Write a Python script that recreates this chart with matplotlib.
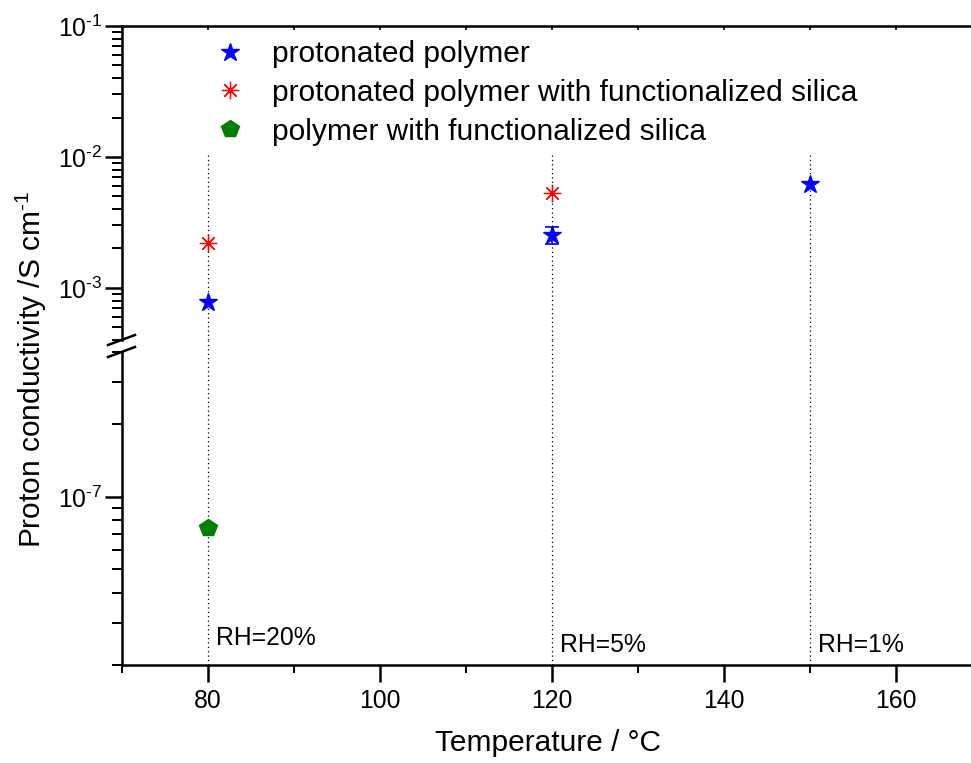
import numpy as np
import matplotlib
matplotlib.use("Agg")
import matplotlib.pyplot as plt
from matplotlib.ticker import MultipleLocator, LogLocator, FuncFormatter, NullFormatter
from matplotlib.lines import Line2D

plt.rcParams['font.family'] = ['Liberation Sans', 'DejaVu Sans']
plt.rcParams['mathtext.fontset'] = 'custom'
plt.rcParams['mathtext.rm'] = 'Liberation Sans'
plt.rcParams['mathtext.it'] = 'Liberation Sans:italic'
plt.rcParams['mathtext.bf'] = 'Liberation Sans:bold'

# ---------------- data ----------------
temp_protonated = [80, 120, 150]
cond_protonated = [7.8e-4, 2.55e-3, 6.2e-3]
err_low_protonated = [0.0, 0.40e-3, 0.0]
err_high_protonated = [0.0, 0.35e-3, 0.0]

temp_prot_silica = [80, 120]
cond_prot_silica = [2.2e-3, 5.3e-3]

temp_silica = [80]
cond_silica = [7.4e-8]

rh_temps = [80, 120, 150]
rh_labels = ["RH=20%", "RH=5%", "RH=1%"]

legend_labels = ["protonated polymer",
                 "protonated polymer with functionalized silica",
                 "polymer with functionalized silica"]

# ---------------- layout ----------------
W, H = 971, 763
fig = plt.figure(figsize=(W / 100, H / 100), dpi=100)

left_px, right_px = 122, 971
top_px, brk_top_px, brk_bot_px, bottom_px = 26, 340, 352, 665

ax_up = fig.add_axes([left_px / W, (H - brk_top_px) / H, (right_px - left_px) / W,
                      (brk_top_px - top_px) / H])
ax_lo = fig.add_axes([left_px / W, (H - bottom_px) / H, (right_px - left_px) / W,
                      (bottom_px - brk_bot_px) / H])

xlim = (70, 168.7)
up_ylim = (4e-4, 1e-1)
lo_ylim = (2e-8, 4e-7)

blue = '#0000FF'
red = '#FF0000'
green = '#008000'
tick_fs = 17.8
lw_spine = 1.8


def pow10_fmt(v, pos):
    e = int(round(np.log10(v)))
    if e < 0:
        return r'$10^{\text{-}%d}$' % (-e)
    return r'$10^{%d}$' % e


for ax, yl in ((ax_up, up_ylim), (ax_lo, lo_ylim)):
    ax.set_xlim(*xlim)
    ax.set_yscale('log')
    ax.set_ylim(*yl)
    ax.spines['right'].set_visible(False)
    for s in ax.spines.values():
        s.set_linewidth(lw_spine)
    ax.yaxis.set_major_locator(LogLocator(base=10, numticks=20))
    ax.yaxis.set_minor_locator(LogLocator(base=10, subs=np.arange(2, 10), numticks=20))
    ax.yaxis.set_major_formatter(FuncFormatter(pow10_fmt))
    ax.yaxis.set_minor_formatter(NullFormatter())
    ax.tick_params(axis='y', which='major', direction='out', length=12, width=1.8,
                   labelsize=tick_fs, pad=2, right=False)
    ax.tick_params(axis='y', which='minor', direction='out', length=7, width=1.4, right=False)
    ax.xaxis.set_major_locator(MultipleLocator(20))
    ax.xaxis.set_minor_locator(MultipleLocator(10))
    ax.patch.set_alpha(0)

# upper axes: top spine with small inward ticks, no bottom spine
ax_up.spines['bottom'].set_visible(False)
ax_up.tick_params(axis='x', which='both', bottom=False, labelbottom=False, top=True,
                  direction='in', length=3, width=1.2)
# lower axes: no top spine, bottom ticks outward
ax_lo.spines['top'].set_visible(False)
ax_lo.tick_params(axis='x', which='major', direction='out', length=12, width=1.8,
                  labelsize=tick_fs, pad=5, top=False)
ax_lo.tick_params(axis='x', which='minor', direction='out', length=6, width=1.4, top=False)

# vertical dotted guide lines (continuing across the axis break)
vline_top = 1.1e-2
for t in rh_temps:
    ax_up.plot([t, t], [up_ylim[0], vline_top], color='black', lw=0.9,
               linestyle=(0, (1, 2.5)), zorder=1)
    ax_lo.plot([t, t], [lo_ylim[0], lo_ylim[1] * 1.13], color='black', lw=0.9,
               linestyle=(0, (1, 2.5)), zorder=1, clip_on=False)

# data
star_kw = dict(marker='*', markersize=13.5, color=blue, linestyle='none', zorder=5)
ast_kw = dict(marker=(8, 2, 0), markersize=12.5, color=red, markeredgewidth=0.9,
              linestyle='none', zorder=5)
pent_kw = dict(marker='p', markersize=13, color=green, linestyle='none', zorder=5)

tp = np.array(temp_protonated)
cp = np.array(cond_protonated)
el = np.array(err_low_protonated)
eh = np.array(err_high_protonated)
m = (el > 0) | (eh > 0)
ax_up.errorbar(tp[m], cp[m], yerr=[el[m], eh[m]], fmt='none', ecolor=blue,
               elinewidth=1.2, capsize=4.7, capthick=1.2, zorder=4)
ax_up.plot(tp, cp, **star_kw)
ax_up.plot(temp_prot_silica, cond_prot_silica, **ast_kw)
ax_lo.plot(temp_silica, cond_silica, **pent_kw)

# RH annotations
rh_offsets = [(6.0, 14.5), (5.5, 9.5), (6.0, 9.5)]
for t, lab, off in zip(rh_temps, rh_labels, rh_offsets):
    ax_lo.annotate(lab, xy=(t, lo_ylim[0]), xytext=off, textcoords='offset points',
                   ha='left', va='baseline', fontsize=tick_fs)

# legend
handles = [Line2D([], [], **star_kw), Line2D([], [], **ast_kw), Line2D([], [], **pent_kw)]
ax_up.legend(handles, legend_labels, loc='upper left',
             bbox_to_anchor=((215 - left_px) / (right_px - left_px),
                             1.0 - (40 - top_px) / (brk_top_px - top_px)),
             frameon=False, fontsize=21.5, handlelength=1.0, handletextpad=0.9,
             labelspacing=0.36, borderpad=0, borderaxespad=0, numpoints=1)

# axis-break marks
bx0, bx1 = 108, 135
for yc in (brk_top_px, brk_bot_px):
    fig.add_artist(Line2D([bx0 / W, bx1 / W], [(H - (yc + 5)) / H, (H - (yc - 5)) / H],
                          color='black', lw=1.8))

# axis labels
ax_lo.set_xlabel("Temperature / °C", fontsize=21.5)
ax_lo.xaxis.set_label_coords((548 - left_px) / (right_px - left_px),
                             (bottom_px - 729) / (bottom_px - brk_bot_px))
fig.text(31 / W, (H - 370) / H, r"Proton conductivity /S cm$^{\text{-}1}$", rotation=90,
         ha='center', va='center', fontsize=21.5)

fig.savefig("out.png", dpi=100)
